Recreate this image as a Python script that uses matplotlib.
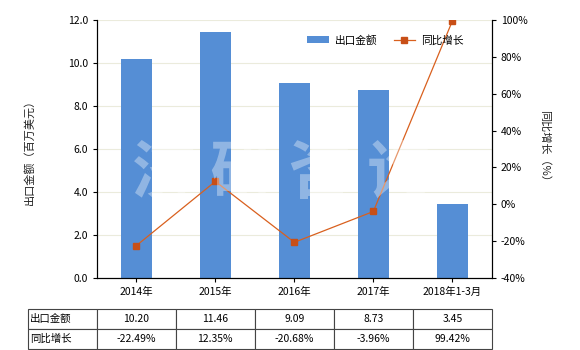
import matplotlib
matplotlib.use('Agg')
import matplotlib.pyplot as plt
import numpy as np

plt.rcParams['font.family'] = ['Noto Sans CJK SC', 'DejaVu Sans']
plt.rcParams['axes.unicode_minus'] = False

categories = ['2014年', '2015年', '2016年', '2017年', '2018年1-3月']
export_values = [10.20, 11.46, 9.09, 8.73, 3.45]
growth_rates = [-22.49, 12.35, -20.68, -3.96, 99.42]
bar_label = '出口金额'
line_label = '同比增长'

bar_color = '#558ed5'
line_color = '#d9601e'
marker_color = '#c84f17'

fig = plt.figure(figsize=(5.8, 3.5), dpi=100)
ax = fig.add_axes([0.167, 0.206, 0.681, 0.737])
ax2 = ax.twinx()

x = np.arange(len(categories))
ax.bar(x, export_values, width=0.39, color=bar_color, label=bar_label, zorder=2)
ax.set_xlim(-0.5, len(categories) - 0.5)
ax.set_ylim(0, 12)
ax.set_yticks(np.arange(0, 12.1, 2))
ax.set_yticklabels(['%.1f' % v for v in np.arange(0, 12.1, 2)])
ax.yaxis.grid(True, color='#ebebdc', linewidth=0.8, zorder=0)
ax.set_axisbelow(True)
ax.set_xticks(x)
ax.set_xticklabels(categories)
ax.tick_params(axis='both', labelsize=7.5, length=3, width=0.8)
ax.set_ylabel('出口金额（百万美元）', fontsize=8, color='#222222', labelpad=24)

ax2.plot(x, growth_rates, color=line_color, linewidth=0.9, marker='s',
         markersize=4, markerfacecolor=marker_color, markeredgecolor=marker_color,
         label=line_label, zorder=3)
ax2.set_ylim(-40, 100)
ax2.set_yticks(np.arange(-40, 101, 20))
ax2.set_yticklabels(['%d%%' % v for v in np.arange(-40, 101, 20)])
ax2.tick_params(axis='y', labelsize=7.5, length=3, width=0.8)
ax2.set_ylabel('同比增长（%）', fontsize=8, color='#222222', rotation=-90, labelpad=16)

for a in (ax, ax2):
    a.spines['top'].set_visible(False)
    for s in ('left', 'right', 'bottom'):
        a.spines[s].set_linewidth(0.8)

# watermark
fig.text(0.486, 0.503, '济 研 咨 询', fontsize=46, fontweight='bold', color='white',
         alpha=0.35, ha='center', va='center', zorder=10)

h1, l1 = ax.get_legend_handles_labels()
h2, l2 = ax2.get_legend_handles_labels()
ax2.legend(h1 + h2, l1 + l2, loc='center right', bbox_to_anchor=(0.935, 0.922),
           borderaxespad=0, borderpad=0.2, ncol=2, frameon=False, fontsize=7.7,
           handlelength=2.0, handletextpad=0.6, columnspacing=1.5)

cell_text = [[bar_label] + ['%.2f' % v for v in export_values],
             [line_label] + ['%.2f%%' % v for v in growth_rates]]
col_widths = [69 / 464] + [79 / 464] * len(categories)
table = ax.table(cellText=cell_text, colWidths=col_widths, cellLoc='center',
                 bbox=[-0.175, -0.275, 1.175, 0.155])
table.auto_set_font_size(False)
table.set_fontsize(7.5)
for (r, c), cell in table.get_celld().items():
    cell.set_edgecolor('#444444')
    cell.set_linewidth(0.8)
    if c == 0:
        cell.set_text_props(ha='left')
        cell.PAD = 0.03

fig.savefig('out.png', dpi=100)
